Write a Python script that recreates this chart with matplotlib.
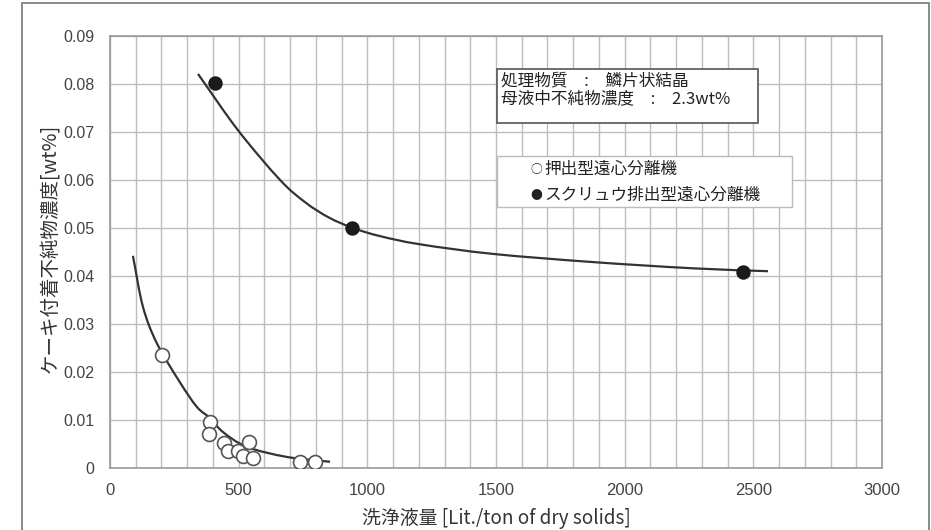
import matplotlib
matplotlib.use("Agg")
import matplotlib.pyplot as plt
import numpy as np
from matplotlib.path import Path
from matplotlib.patches import PathPatch, Rectangle

plt.rcParams['font.family'] = ['Noto Sans CJK JP', 'DejaVu Sans']

# Measured data: pusher-type centrifuge (open circles)
pusher_x = [202, 389, 385, 443, 459, 497, 540, 517, 556, 738, 797]
pusher_y = [0.0235, 0.0096, 0.0071, 0.0052, 0.0035, 0.0035, 0.0054, 0.0025, 0.0021, 0.0013, 0.0013]

# Measured data: screw-discharge centrifuge (filled circles)
screw_x = [408, 940, 2460]
screw_y = [0.0802, 0.0501, 0.0408]

# Hand-drawn trend curves (smoothed through these vertices)
pusher_curve_x = [89, 128, 182, 270, 338, 389, 439, 532, 688, 855]
pusher_curve_y = [0.0442, 0.0336, 0.0260, 0.0180, 0.0127, 0.0104, 0.0075, 0.0044, 0.0023, 0.0013]
screw_curve_x = [342, 497, 661, 760, 850, 944, 1050, 1205, 1489, 1877, 2266, 2557]
screw_curve_y = [0.0821, 0.0704, 0.0600, 0.0553, 0.0522, 0.0500, 0.0483, 0.0466, 0.0446, 0.0429, 0.0416, 0.0410]

x_ticks = [0, 500, 1000, 1500, 2000, 2500, 3000]
y_ticks = [0, 0.01, 0.02, 0.03, 0.04, 0.05, 0.06, 0.07, 0.08, 0.09]
y_tick_labels = ['0', '0.01', '0.02', '0.03', '0.04', '0.05', '0.06', '0.07', '0.08', '0.09']

info_lines = ['処理物質　:　鱗片状結晶', '母液中不純物濃度　:　2.3wt%']
legend_symbols = ['○', '●']
legend_labels = ['押出型遠心分離機', 'スクリュウ排出型遠心分離機']
x_label = '洗浄液量 [Lit./ton of dry solids]'
y_label = 'ケーキ付着不純物濃度[wt%]'


def smooth_path(xs, ys):
    """Catmull-Rom spline through the vertices, expressed as cubic Bezier segments."""
    p = np.column_stack([xs, ys]).astype(float)
    ext = np.vstack([2 * p[0] - p[1], p, 2 * p[-1] - p[-2]])
    verts = [tuple(p[0])]
    codes = [Path.MOVETO]
    for i in range(1, len(ext) - 2):
        p0, p1, p2, p3 = ext[i - 1], ext[i], ext[i + 1], ext[i + 2]
        c1 = p1 + (p2 - p0) / 6.0
        c2 = p2 - (p3 - p1) / 6.0
        verts += [tuple(c1), tuple(c2), tuple(p2)]
        codes += [Path.CURVE4] * 3
    return Path(verts, codes)


def fx(px):
    return px / 931


def fy(py):
    return 1 - py / 530


fig = plt.figure(figsize=(9.31, 5.30), dpi=100)
fig.patch.set_facecolor('white')

# outer frame around the figure
fig.patches.append(Rectangle((fx(22), -0.02), fx(929) - fx(22), fy(3) + 0.02,
                             transform=fig.transFigure, fill=False,
                             edgecolor='#8a8a8a', linewidth=1.4))

ax = fig.add_axes([fx(110), fy(468), fx(882) - fx(110), fy(36) - fy(468)])
ax.set_xlim(0, 3000)
ax.set_ylim(0, 0.09)

# grid
ax.set_xticks(np.arange(0, 3001, 100), minor=True)
ax.set_xticks(x_ticks)
ax.set_yticks(y_ticks)
ax.set_yticklabels(y_tick_labels)
ax.grid(True, which='both', axis='x', color='#bdbdbd', linewidth=1.0)
ax.grid(True, which='major', axis='y', color='#bdbdbd', linewidth=1.0)
ax.set_axisbelow(True)
for s in ax.spines.values():
    s.set_color('#9a9a9a')
    s.set_linewidth(1.2)
ax.tick_params(which='both', length=0)
ax.tick_params(axis='y', pad=11, labelsize=11.5, labelcolor='#444444')
ax.tick_params(axis='x', pad=11, labelsize=12, labelcolor='#444444')
for lab in ax.get_yticklabels():
    lab.set_fontfamily(['Liberation Sans', 'DejaVu Sans'])
for lab in ax.get_xticklabels():
    lab.set_fontfamily(['Liberation Sans Narrow', 'Liberation Sans', 'DejaVu Sans'])

# trend curves
for cx, cy in [(pusher_curve_x, pusher_curve_y), (screw_curve_x, screw_curve_y)]:
    ax.add_patch(PathPatch(smooth_path(cx, cy), facecolor='none',
                           edgecolor='#333333', linewidth=1.6, zorder=3))

# data points
ax.scatter(pusher_x, pusher_y, s=100, facecolors='white', edgecolors='#555555',
           linewidths=1.2, zorder=4)
ax.scatter(screw_x, screw_y, s=88, facecolors='#1a1a1a', edgecolors='#1a1a1a',
           zorder=4)

# axis labels
fig.text(fx(496), fy(518), x_label, ha='center', va='center',
         fontsize=13.6, color='#333333',
         family=['Noto Sans CJK JP', 'DejaVu Sans'])
fig.text(fx(50), fy(248), y_label, ha='center', va='center',
         rotation=90, fontsize=14, color='#333333',
         family=['Noto Sans CJK JP', 'DejaVu Sans'])

# info box
fig.patches.append(Rectangle((fx(497), fy(123)), fx(758) - fx(497), fy(69) - fy(123),
                             transform=fig.transFigure, facecolor='white',
                             edgecolor='#555555', linewidth=1.2, zorder=5))
fig.text(fx(501), fy(81), info_lines[0], ha='left', va='center',
         fontsize=12, color='#222222', zorder=6)
fig.text(fx(501), fy(99), info_lines[1], ha='left', va='center',
         fontsize=12, color='#222222', zorder=6)

# legend box
fig.patches.append(Rectangle((fx(497), fy(207)), fx(792) - fx(497), fy(156) - fy(207),
                             transform=fig.transFigure, facecolor='white',
                             edgecolor='#bbbbbb', linewidth=1.0, zorder=5))
for sym, lab, py in zip(legend_symbols, legend_labels, [169, 195]):
    fig.text(fx(536), fy(py), sym, ha='center', va='center',
             fontsize=8.5, color='#222222', zorder=6)
    fig.text(fx(544), fy(py), lab, ha='left', va='center',
             fontsize=12, color='#222222', zorder=6)

fig.savefig('out.png', dpi=100, facecolor='white')
